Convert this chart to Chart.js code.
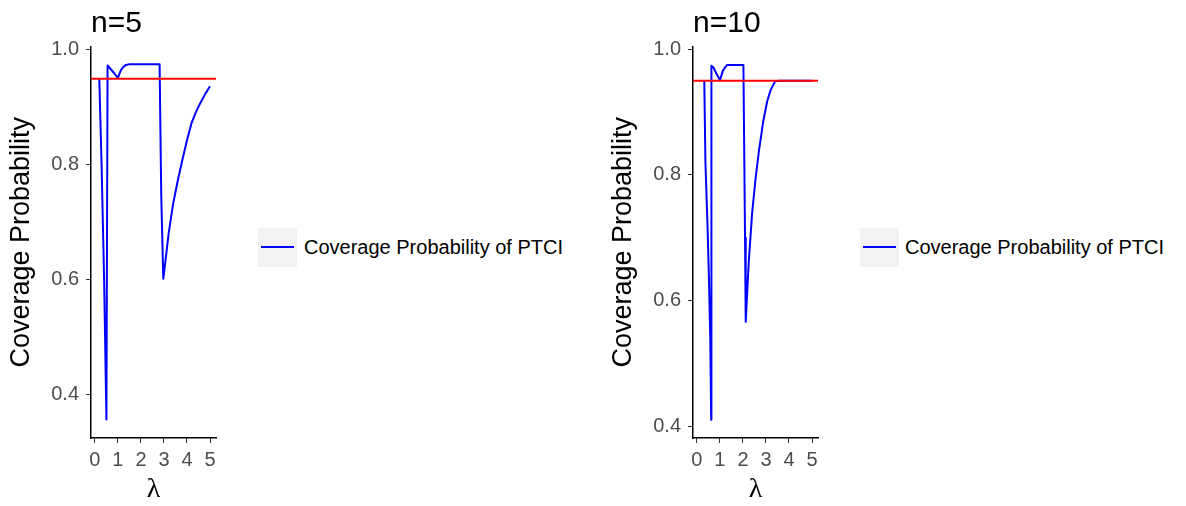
<!DOCTYPE html>
<html lang="en">
<head>
  <meta charset="UTF-8" />
  <title>Coverage Probability of PTCI</title>
  <script src="https://cdn.jsdelivr.net/npm/chart.js"></script>
  <style>
    body {
      margin: 0;
      width: 1186px;
      height: 506px;
      background: #fff;
      position: relative;
      overflow: hidden;
      font-family: "Liberation Sans", Arial, sans-serif;
    }
    canvas {
      position: absolute;
      top: 0;
    }
    .title {
      position: absolute;
      top: 7px;
      font-size: 30px;
      line-height: 30px;
      color: #000;
    }
    .key {
      position: absolute;
      top: 228px;
      width: 39px;
      height: 39px;
      background: #f2f2f2;
    }
    .key div {
      position: absolute;
      left: 3px;
      top: 18px;
      width: 33px;
      height: 2px;
      background: #0000ff;
    }
    .legtext {
      position: absolute;
      top: 235px;
      font-size: 20px;
      line-height: 24px;
      color: #000;
      white-space: nowrap;
    }
  </style>
</head>
<body>

  <canvas id="c5" width="240" height="506" style="left:0px"></canvas>
  <canvas id="c10" width="240" height="506" style="left:602px"></canvas>

  <div class="title" style="left:91px">n=5</div>
  <div class="title" style="left:693px">n=10</div>

  <div class="key" style="left:258px"><div></div></div>
  <div class="legtext" style="left:304px">Coverage Probability of PTCI</div>
  <div class="key" style="left:860px"><div></div></div>
  <div class="legtext" style="left:905px">Coverage Probability of PTCI</div>

  <script>
    // values
    const lam5 = [0.19, 0.29, 0.40, 0.50, 0.55, 0.70, 0.85, 1.00, 1.05, 1.12, 1.22, 1.35, 1.50,
                  2.00, 2.50, 2.81, 2.88, 2.97, 3.07, 3.20, 3.40, 3.60, 3.80, 4.00,
                  4.20, 4.40, 4.57, 4.80, 5.00];
    const cov5 = [0.950, 0.800, 0.600, 0.357, 0.973, 0.966, 0.959, 0.951, 0.957, 0.964, 0.970, 0.974, 0.975,
                  0.975, 0.975, 0.975, 0.750, 0.602, 0.635, 0.680, 0.733, 0.773, 0.809, 0.843,
                  0.873, 0.893, 0.907, 0.924, 0.937];

    const lam10 = [0.32, 0.37, 0.46, 0.52, 0.58, 0.62, 0.63, 0.72, 0.85, 1.00, 1.13, 1.30,
                   1.60, 2.02, 2.06, 2.09, 2.12, 2.25, 2.40, 2.55, 2.70, 2.88, 3.05, 3.20,
                   3.40, 3.60, 4.00, 5.00];
    const cov10 = [0.950, 0.820, 0.720, 0.640, 0.540, 0.410, 0.974, 0.971, 0.961, 0.951, 0.966, 0.975,
                   0.975, 0.975, 0.820, 0.700, 0.566, 0.660, 0.740, 0.795, 0.840, 0.885, 0.917, 0.935,
                   0.949, 0.950, 0.950, 0.950];

    const target = 0.95;
    const xTicks = [0, 1, 2, 3, 4, 5];
    const yTicks = [0.4, 0.6, 0.8, 1.0];

    const FONT = "'Liberation Sans', Arial, sans-serif";

    function makePanel(id, lam, cov, yMin, yMax) {
      const xMin = -0.17, xMax = 5.26;
      const pts = lam.map((x, i) => ({ x: x, y: cov[i] }));
      return new Chart(document.getElementById(id), {
        type: 'line',
        data: {
          datasets: [
            {
              label: 'target',
              data: [{ x: xMin, y: target }, { x: xMax, y: target }],
              borderColor: '#ff0000',
              borderWidth: 2,
              pointRadius: 0,
              order: 0
            },
            {
              label: 'Coverage Probability of PTCI',
              data: pts,
              borderColor: '#0000ff',
              borderWidth: 2,
              pointRadius: 0,
              tension: 0,
              borderJoinStyle: 'round',
              order: 1
            }
          ]
        },
        options: {
          responsive: false,
          animation: false,
          events: [],
          layout: { padding: { top: 46.5, right: 24, left: 0, bottom: 0 } },
          plugins: {
            legend: { display: false },
            tooltip: { enabled: false }
          },
          scales: {
            x: {
              type: 'linear',
              min: xMin,
              max: xMax,
              afterBuildTicks: s => { s.ticks = xTicks.map(v => ({ value: v })); },
              afterFit: s => { s.height = 68; },
              grid: { drawOnChartArea: false, tickLength: 5, color: '#333333', lineWidth: 1 },
              border: { display: true, color: '#000', width: 1.5 },
              ticks: {
                color: '#4d4d4d',
                padding: 5,
                maxRotation: 0,
                font: { family: FONT, size: 20 },
                callback: v => String(v)
              },
              title: {
                display: true,
                text: 'λ',
                color: '#000',
                font: { family: "'Liberation Serif', serif", size: 28 },
                padding: { top: 0, bottom: 0 }
              }
            },
            y: {
              type: 'linear',
              min: yMin,
              max: yMax,
              afterBuildTicks: s => { s.ticks = yTicks.map(v => ({ value: v })); },
              afterFit: s => { s.width = 91; },
              grid: { drawOnChartArea: false, tickLength: 5, color: '#333333', lineWidth: 1 },
              border: { display: true, color: '#000', width: 1.5 },
              ticks: {
                color: '#4d4d4d',
                padding: 7,
                font: { family: FONT, size: 20 },
                callback: v => v.toFixed(1)
              },
              title: {
                display: true,
                text: 'Coverage Probability',
                color: '#000',
                font: { family: FONT, size: 27 },
                padding: { top: 5, bottom: 0 }
              }
            }
          }
        }
      });
    }

    makePanel('c5', lam5, cov5, 0.325, 1.006);
    makePanel('c10', lam10, cov10, 0.381, 1.0045);
  </script>
</body>
</html>
